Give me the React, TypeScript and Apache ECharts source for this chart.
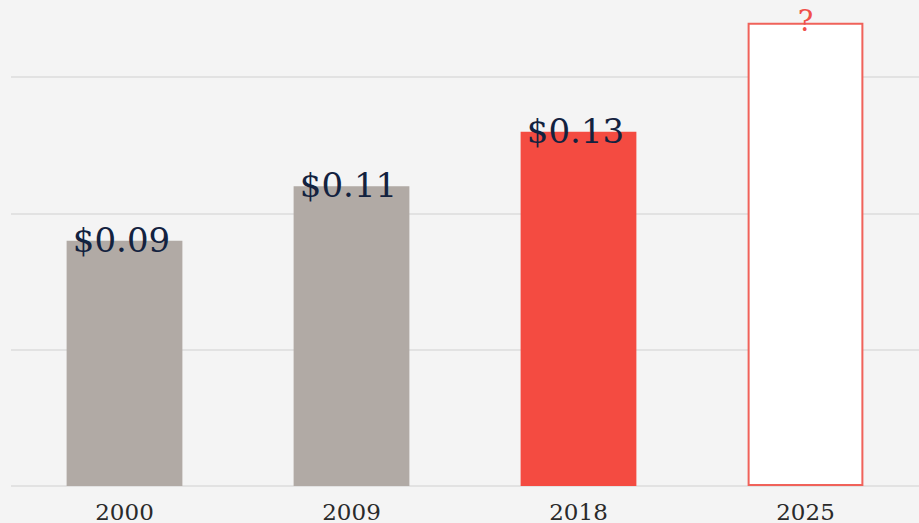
import React, { useEffect, useRef } from "react";
import * as echarts from "echarts";

const categories = ["2000", "2009", "2018", "2025"];
const values = [0.09, 0.11, 0.13, 0.17];
const valueLabels = ["$0.09", "$0.11", "$0.13", "?"];

export default function App() {
  const ref = useRef<HTMLDivElement>(null);
  useEffect(() => {
    if (!ref.current) return;
    const chart = echarts.init(ref.current, null, { renderer: "svg" });
    const gray = "#b1aaa5";
    const red = "#f44b41";
    const data = values.map((v, i) => {
      if (i === 3) {
        return {
          value: v,
          itemStyle: { color: "#ffffff", borderColor: "#f0625a", borderWidth: 2 },
          label: {
            color: "#f0504a",
            fontSize: 29,
            fontFamily: "DejaVu Serif",
            offset: [0, 13],
          },
        };
      }
      return { value: v, itemStyle: { color: i === 2 ? red : gray } };
    });
    chart.setOption({
      animation: false,
      backgroundColor: "#f4f4f4",
      grid: { left: 11, right: -2, top: 9, bottom: 36, containLabel: false },
      xAxis: {
        type: "category",
        data: categories,
        axisLine: { show: false },
        axisTick: { show: false },
        axisLabel: {
          color: "#2a2a2a",
          fontSize: 23,
          fontFamily: "DejaVu Serif",
          margin: 14,
        },
      },
      yAxis: {
        type: "value",
        min: 0,
        max: 0.175,
        interval: 0.05,
        axisLabel: { show: false },
        axisLine: { show: false },
        axisTick: { show: false },
        splitLine: {
          show: true,
          showMaxLine: false,
          lineStyle: { color: "#dcdcdc", width: 1.5 },
        },
      },
      series: [
        {
          type: "bar",
          data,
          barWidth: "51%",
          label: {
            show: true,
            position: "top",
            distance: 0,
            offset: [-3, 16],
            color: "#13223f",
            fontSize: 34,
            fontFamily: "DejaVu Serif",
            formatter: (p: any) => valueLabels[p.dataIndex],
          },
        },
      ],
    });
    return () => chart.dispose();
  }, []);
  return (
    <div
      ref={ref}
      style={{ position: "fixed", left: 0, top: 0, width: 919, height: 523 }}
    />
  );
}
